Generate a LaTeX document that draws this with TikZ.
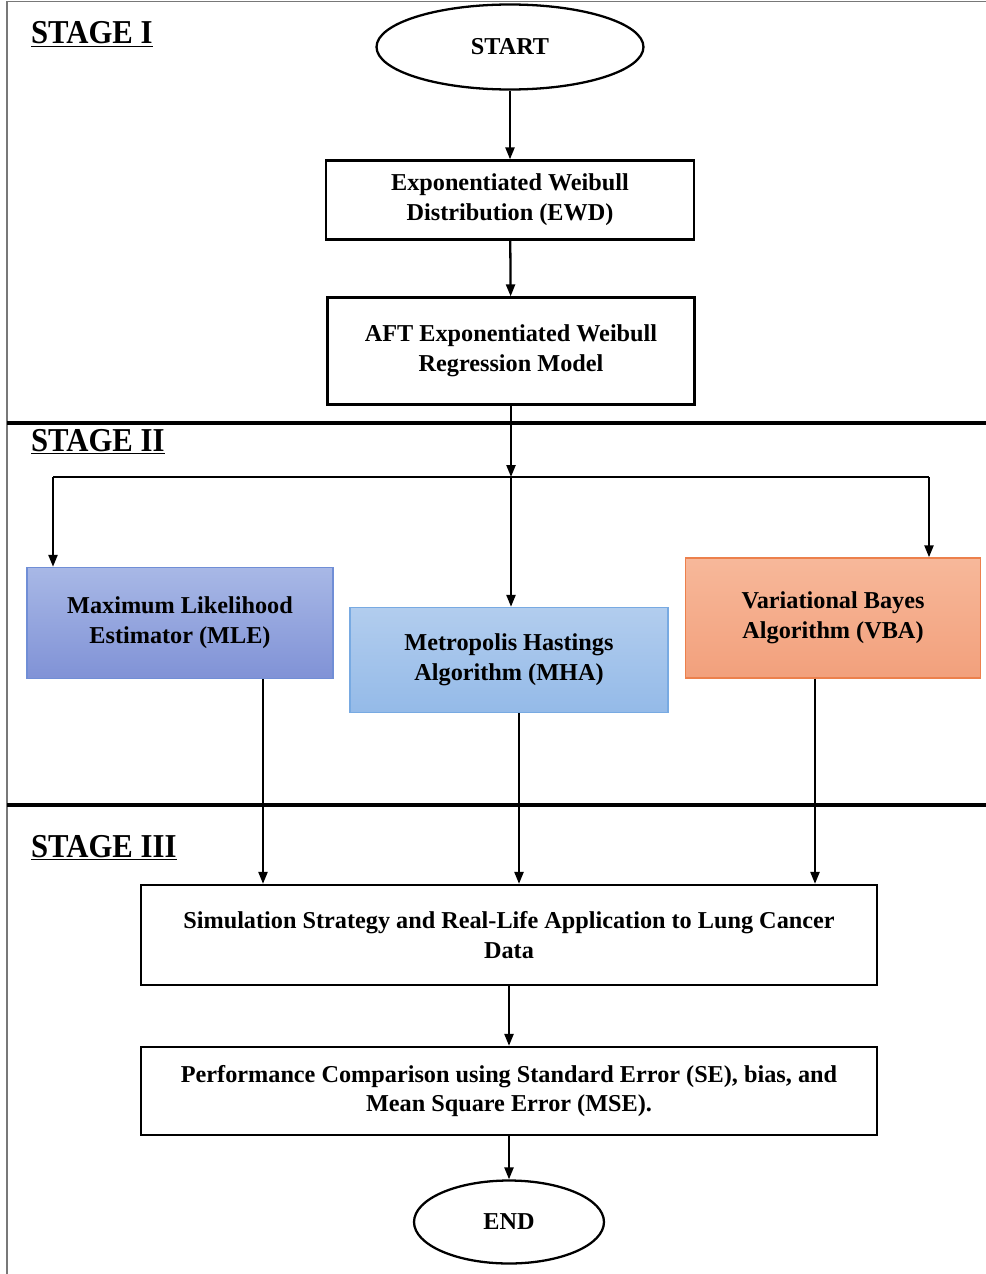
\documentclass[tikz,border=0pt]{standalone}
\usepackage{fontspec}
\setmainfont{Liberation Serif}
\usepackage{tikz}
\usetikzlibrary{positioning, arrows.meta, shapes.geometric}
\usepackage{xcolor}
\definecolor{mleTop}{RGB}{168,184,230}
\definecolor{mleBot}{RGB}{128,146,214}
\definecolor{mleLine}{RGB}{112,142,214}
\definecolor{mhaTop}{RGB}{178,205,238}
\definecolor{mhaBot}{RGB}{148,186,232}
\definecolor{mhaLine}{RGB}{120,170,226}
\definecolor{vbaTop}{RGB}{247,184,154}
\definecolor{vbaBot}{RGB}{242,160,124}
\definecolor{vbaLine}{RGB}{236,128,76}
\definecolor{frameGray}{RGB}{120,120,120}

\begin{document}
\begin{tikzpicture}[
  x=0.02cm, y=-0.02cm,
  every node/.style={draw, line width=1.3pt, align=center, inner sep=2pt,
    font=\fontsize{13.8}{17}\selectfont\bfseries},
  stagelabel/.style={draw=none, anchor=base west, inner sep=0pt,
    font=\fontsize{19}{22}\selectfont\bfseries},
  terminal/.style={ellipse},
  procbox/.style={rectangle},
  methbox/.style={rectangle, line width=0.8pt},
  flow/.style={->, line width=1.3pt},
  >={Triangle[length=2.4mm, width=1.8mm]}
]
  \useasboundingbox (0,0) rectangle (986,1274);

  % --- Frame and stage dividers ---
  \draw[frameGray, line width=0.8pt] (7,1274) -- (7,1.5) -- (986,1.5);
  \draw[line width=2.2pt] (7,423) -- (986,423);
  \draw[line width=2.2pt] (7,805) -- (986,805);

  % --- Stage I ---
  \node[stagelabel] (s1) at (30,44) {\scalebox{0.92}[1]{\underline{STAGE I}}};
  \node[terminal, minimum width=5.34cm, minimum height=1.7cm] (start) at (510,47) {START};
  \node[procbox, minimum width=7.36cm, minimum height=1.58cm] (ewd) at (510,200)
    {Exponentiated Weibull\\Distribution (EWD)};
  \node[procbox, minimum width=7.34cm, minimum height=2.14cm] (aft) at (511,351)
    {AFT Exponentiated Weibull\\Regression Model};
  \draw[flow] (start) -- (ewd);
  \draw[flow] (ewd) -- (aft);

  % --- Stage II ---
  \node[stagelabel] (s2) at (30,451) {\scalebox{0.92}[1]{\underline{STAGE II}}};
  \node[methbox, draw=mleLine, top color=mleTop, bottom color=mleBot,
    minimum width=6.12cm, minimum height=2.22cm] (mle) at (180,623)
    {Maximum Likelihood\\Estimator (MLE)};
  \node[methbox, draw=mhaLine, top color=mhaTop, bottom color=mhaBot,
    minimum width=6.36cm, minimum height=2.1cm] (mha) at (509,660)
    {Metropolis Hastings\\Algorithm (MHA)};
  \node[methbox, draw=vbaLine, top color=vbaTop, bottom color=vbaBot,
    minimum width=5.9cm, minimum height=2.4cm] (vba) at (833,618)
    {Variational Bayes\\Algorithm (VBA)};
  \coordinate (split) at (511,477);
  \coordinate (splitL) at (53,477);
  \coordinate (splitR) at (929,477);
  \draw[flow] (aft) -- (split);
  \draw[line width=1.3pt] (splitL) -- (splitR);
  \draw[flow] (splitL) -- (splitL |- mle.north);
  \draw[flow] (split) -- (split |- mha.north);
  \draw[flow] (splitR) -- (splitR |- vba.north);

  % --- Stage III ---
  \node[stagelabel] (s3) at (30,857) {\scalebox{0.92}[1]{\underline{STAGE III}}};
  \node[procbox, minimum width=14.72cm, minimum height=2.0cm] (sim) at (509,935)
    {Simulation Strategy and Real-Life Application to Lung Cancer\\Data};
  \node[procbox, minimum width=14.72cm, minimum height=1.76cm] (perf) at (509,1091)
    {Performance Comparison using Standard Error (SE), bias, and\\Mean Square Error (MSE).};
  \node[terminal, minimum width=3.8cm, minimum height=1.66cm] (end) at (509,1222) {END};
  \coordinate (xl) at (263,0);
  \coordinate (xm) at (519,0);
  \coordinate (xr) at (815,0);
  \draw[flow] (mle.south -| xl) -- (sim.north -| xl);
  \draw[flow] (mha.south -| xm) -- (sim.north -| xm);
  \draw[flow] (vba.south -| xr) -- (sim.north -| xr);
  \draw[flow] (sim) -- (perf);
  \draw[flow] (perf) -- (end);
\end{tikzpicture}
\end{document}
